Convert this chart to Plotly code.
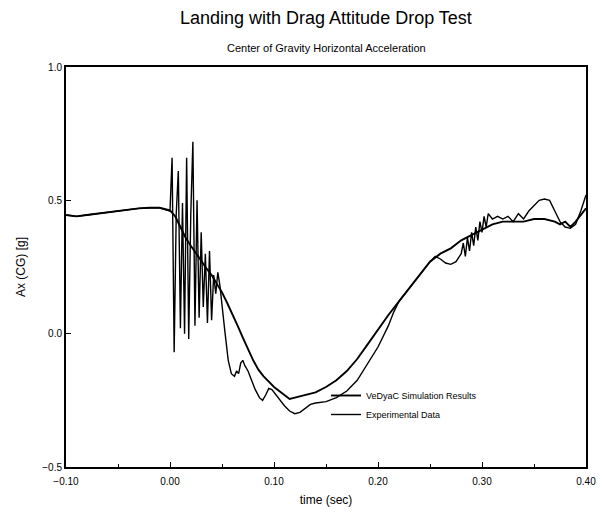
import plotly.graph_objects as go

# ---------------- data ----------------
sim_t = [-0.100, -0.090, -0.080, -0.070, -0.060, -0.050, -0.040, -0.030, -0.020, -0.010,
         0.000, 0.005, 0.010, 0.015, 0.020, 0.025, 0.030, 0.035, 0.040, 0.045,
         0.050, 0.055, 0.060, 0.065, 0.070, 0.075, 0.080, 0.085, 0.090, 0.095,
         0.100, 0.105, 0.110, 0.115, 0.120, 0.125, 0.130, 0.140, 0.150, 0.160,
         0.170, 0.180, 0.190, 0.200, 0.210, 0.220, 0.230, 0.240, 0.250, 0.260,
         0.270, 0.280, 0.290, 0.300, 0.310, 0.320, 0.330, 0.340, 0.350, 0.360,
         0.370, 0.375, 0.380, 0.385, 0.390, 0.400]
sim_v = [0.445, 0.440, 0.445, 0.450, 0.455, 0.460, 0.465, 0.470, 0.472, 0.472,
         0.462, 0.440, 0.400, 0.360, 0.330, 0.300, 0.270, 0.245, 0.220, 0.190,
         0.155, 0.115, 0.075, 0.030, -0.015, -0.060, -0.100, -0.135, -0.160, -0.180,
         -0.200, -0.215, -0.230, -0.245, -0.240, -0.235, -0.230, -0.220, -0.200, -0.175,
         -0.140, -0.095, -0.040, 0.015, 0.070, 0.120, 0.170, 0.220, 0.270, 0.300,
         0.320, 0.350, 0.370, 0.390, 0.410, 0.420, 0.420, 0.420, 0.430, 0.430,
         0.420, 0.410, 0.420, 0.400, 0.420, 0.470]

exp_t = [-0.100, -0.090, -0.080, -0.070, -0.060, -0.050, -0.040, -0.030, -0.020, -0.010,
         0.000, 0.002, 0.004, 0.006, 0.008, 0.010, 0.012, 0.014, 0.016, 0.018,
         0.020, 0.022, 0.024, 0.026, 0.028, 0.030, 0.032, 0.034, 0.036, 0.038,
         0.040, 0.042, 0.044, 0.046, 0.048, 0.050, 0.053, 0.056, 0.059, 0.062,
         0.064, 0.066, 0.068, 0.070, 0.072, 0.075, 0.078, 0.082, 0.086, 0.089,
         0.092, 0.095, 0.098, 0.101, 0.105, 0.110, 0.115, 0.120, 0.125, 0.130,
         0.135, 0.140, 0.150, 0.160, 0.170, 0.180, 0.190, 0.200, 0.210, 0.215,
         0.220, 0.230, 0.240, 0.250, 0.255, 0.260, 0.265, 0.270, 0.275, 0.280,
         0.282, 0.284, 0.286, 0.288, 0.290, 0.292, 0.294, 0.296, 0.298, 0.300,
         0.302, 0.304, 0.306, 0.310, 0.315, 0.320, 0.325, 0.330, 0.335, 0.340,
         0.345, 0.350, 0.355, 0.360, 0.365, 0.370, 0.375, 0.380, 0.385, 0.390,
         0.395, 0.400]
exp_v = [0.445, 0.440, 0.445, 0.450, 0.455, 0.460, 0.465, 0.470, 0.472, 0.472,
         0.460, 0.660, -0.070, 0.450, 0.610, 0.020, 0.490, 0.000, 0.660, -0.020,
         0.450, 0.720, 0.030, 0.500, 0.060, 0.380, 0.100, 0.300, 0.040, 0.310,
         0.050, 0.220, 0.150, 0.230, 0.180, 0.100, 0.000, -0.100, -0.150, -0.160,
         -0.140, -0.150, -0.110, -0.100, -0.120, -0.140, -0.170, -0.210, -0.240, -0.250,
         -0.230, -0.205, -0.210, -0.225, -0.245, -0.270, -0.290, -0.300, -0.295, -0.280,
         -0.265, -0.260, -0.255, -0.240, -0.215, -0.175, -0.115, -0.050, 0.030, 0.080,
         0.120, 0.170, 0.220, 0.270, 0.290, 0.280, 0.265, 0.260, 0.270, 0.300,
         0.340, 0.290, 0.360, 0.310, 0.380, 0.330, 0.400, 0.350, 0.420, 0.380,
         0.440, 0.400, 0.450, 0.430, 0.440, 0.430, 0.440, 0.420, 0.450, 0.430,
         0.460, 0.480, 0.500, 0.505, 0.500, 0.460, 0.420, 0.400, 0.395, 0.410,
         0.460, 0.520]

series_names = ["VeDyaC Simulation Results", "Experimental Data"]
x_ticks = [-0.10, 0.00, 0.10, 0.20, 0.30, 0.40]
y_ticks = [-0.5, 0.0, 0.5, 1.0]

title_text = "Landing with Drag Attitude Drop Test"
subtitle_text = "Center of Gravity Horizontal Acceleration"
x_title = "time (sec)"
y_title = "Ax (CG) [g]"

# ---------------- figure ----------------
FONT = "Liberation Sans, Arial, sans-serif"
fig = go.Figure()
fig.add_trace(go.Scatter(x=sim_t, y=sim_v, mode="lines", name=series_names[0],
                         line=dict(color="black", width=1.9)))
fig.add_trace(go.Scatter(x=exp_t, y=exp_v, mode="lines", name=series_names[1],
                         line=dict(color="black", width=1.4)))

axis_common = dict(showline=True, linecolor="black", linewidth=2, mirror=True,
                   ticks="inside", ticklen=5, tickcolor="black", showgrid=False,
                   zeroline=False, automargin=False,
                   tickfont=dict(family=FONT, size=10, color="black"))

fig.update_xaxes(range=[-0.10, 0.40], tickvals=x_ticks,
                 ticktext=[f"{v:.2f}".replace("-", "\u2212") for v in x_ticks],
                 ticklabelstandoff=4,
                 title=dict(text=x_title, font=dict(family=FONT, size=12, color="black"), standoff=10),
                 minor=dict(tickvals=[-0.05, 0.05, 0.15, 0.25, 0.35], ticks="inside", ticklen=3, tickcolor="black"),
                 **axis_common)
fig.update_yaxes(range=[-0.5, 1.0], tickvals=y_ticks,
                 ticktext=[f"{v:.1f}".replace("-", "\u2212") for v in y_ticks],
                 title=dict(text=y_title, font=dict(family=FONT, size=12, color="black"), standoff=14),
                 **axis_common)

fig.update_layout(
    width=603, height=512,
    margin=dict(l=66, r=17, t=67, b=45),
    plot_bgcolor="white", paper_bgcolor="white",
    showlegend=True,
    legend=dict(x=0.50, y=0.215, xanchor="left", yanchor="top",
                bgcolor="rgba(0,0,0,0)", font=dict(family=FONT, size=9, color="black"),
                itemwidth=30, tracegroupgap=0),
    annotations=[
        dict(text=title_text, x=0.5, y=1.123, xref="paper", yref="paper",
             xanchor="center", yanchor="middle",
             showarrow=False, font=dict(family=FONT, size=18, color="black")),
        dict(text=subtitle_text, x=0.5, y=1.048, xref="paper", yref="paper",
             xanchor="center", yanchor="middle",
             showarrow=False, font=dict(family=FONT, size=11, color="black")),
    ],
)

fig.write_html("out.html")
